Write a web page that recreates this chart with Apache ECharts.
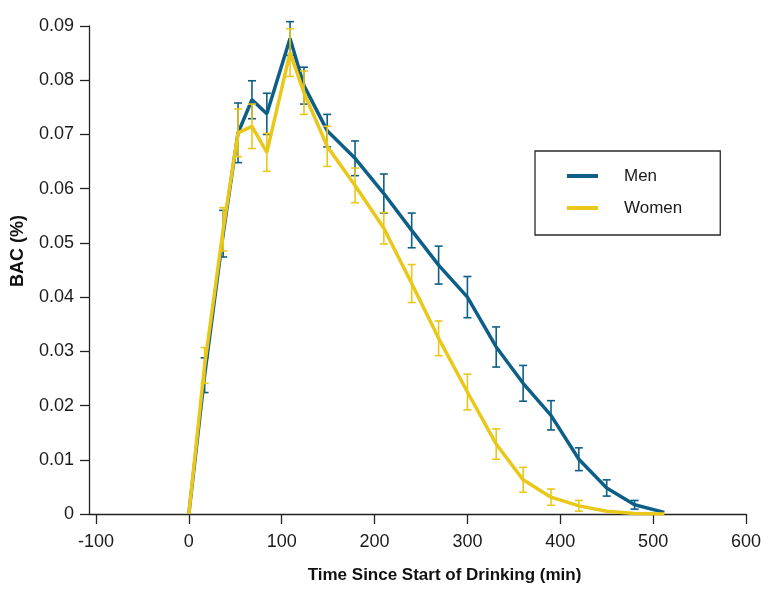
<!DOCTYPE html>
<html>
<head>
<meta charset="utf-8">
<script src="https://cdn.jsdelivr.net/npm/echarts@6/dist/echarts.min.js"></script>
<style>
html,body{margin:0;padding:0;background:#fff;}
#chart{width:775px;height:595px;}
</style>
</head>
<body>
<div id="chart"></div>
<script>
// ---- data ----
const times    = [0, 17, 37, 53, 68, 84, 109, 124, 149, 179, 210, 240, 269, 300, 331, 360, 390, 420, 450, 480, 512];
const menBAC   = [0, 0.0256, 0.0517, 0.0703, 0.0764, 0.0738, 0.0877, 0.0790, 0.0707, 0.0656, 0.0591, 0.0523, 0.0459, 0.0400, 0.0308, 0.0241, 0.0182, 0.0101, 0.0048, 0.0017, 0.0003];
const menErr   = [null, 0.0032, 0.0043, 0.0055, 0.0035, 0.0038, 0.0031, 0.0034, 0.0030, 0.0032, 0.0036, 0.0032, 0.0035, 0.0038, 0.0037, 0.0033, 0.0027, 0.0021, 0.0015, 0.0008, null];
const womenBAC = [0, 0.0274, 0.0525, 0.0703, 0.0715, 0.0667, 0.0851, 0.0777, 0.0678, 0.0606, 0.0527, 0.0425, 0.0324, 0.0225, 0.0129, 0.0063, 0.0031, 0.0015, 0.0005, 0.0001, 0];
const womenErr = [null, 0.0033, 0.0040, 0.0044, 0.0041, 0.0035, 0.0044, 0.0040, 0.0037, 0.0032, 0.0029, 0.0035, 0.0032, 0.0033, 0.0028, 0.0023, 0.0015, 0.0010, null, null, null];
const xTicks   = [-100, 0, 100, 200, 300, 400, 500, 600];
const seriesNames = ['Men', 'Women'];

const BLUE = '#0e5f87';
const YELLOW = '#e9c81a';
const FONT = '"Liberation Sans", Arial, Helvetica, sans-serif';

function pairs(ys) { return times.map((t, i) => [t, ys[i]]); }
function errData(ys, es) {
  const out = [];
  times.forEach((t, i) => { if (es[i] != null) out.push([t, ys[i] - es[i], ys[i] + es[i]]); });
  return out;
}
function renderErr(params, api) {
  const x = api.value(0), lo = api.value(1), hi = api.value(2);
  const p1 = api.coord([x, lo]);
  const p2 = api.coord([x, hi]);
  const w = 4;
  const style = { stroke: api.visual('color'), lineWidth: 1.6 };
  return {
    type: 'group',
    children: [
      { type: 'line', shape: { x1: p1[0], y1: p1[1], x2: p2[0], y2: p2[1] }, style },
      { type: 'line', shape: { x1: p1[0] - w, y1: p1[1], x2: p1[0] + w, y2: p1[1] }, style },
      { type: 'line', shape: { x1: p2[0] - w, y1: p2[1], x2: p2[0] + w, y2: p2[1] }, style }
    ]
  };
}

const chart = echarts.init(document.getElementById('chart'), null, { renderer: 'canvas' });
chart.setOption({
  backgroundColor: '#ffffff',
  animation: false,
  textStyle: { fontFamily: FONT },
  grid: { left: 89, right: 29, top: 26, bottom: 81, containLabel: false },
  legend: {
    data: seriesNames,
    orient: 'vertical',
    left: 535,
    top: 151,
    icon: 'rect',
    itemWidth: 31,
    itemHeight: 4,
    itemGap: 12,
    padding: [15, 38, 17, 32],
    borderColor: '#2a2a2a',
    borderWidth: 1.3,
    selectedMode: false,
    textStyle: { fontFamily: FONT, fontSize: 17, color: '#1a1a1a', lineHeight: 20, padding: [0, 0, 0, 21] }
  },
  xAxis: {
    type: 'value',
    min: -107.5,
    max: 600,
    name: 'Time Since Start of Drinking (min)',
    nameLocation: 'middle',
    nameGap: 53,
    nameTextStyle: { fontFamily: FONT, fontSize: 17, fontWeight: 'bold', color: '#111', padding: [0, 0, 0, 54] },
    axisLine: { show: true, onZero: false, lineStyle: { color: '#222', width: 1.3 } },
    axisTick: { show: true, length: 10, customValues: xTicks, lineStyle: { color: '#222', width: 1.3 } },
    axisLabel: { customValues: xTicks, fontFamily: FONT, fontSize: 18, color: '#1a1a1a', margin: 19 },
    splitLine: { show: false }
  },
  yAxis: {
    type: 'value',
    min: 0,
    max: 0.09,
    interval: 0.01,
    name: 'BAC (%)',
    nameLocation: 'middle',
    nameGap: 62,
    nameRotate: 90,
    nameTextStyle: { fontFamily: FONT, fontSize: 18, fontWeight: 'bold', color: '#111', padding: [0, 0, 0, 38] },
    axisLine: { show: true, onZero: false, lineStyle: { color: '#222', width: 1.3 } },
    axisTick: { show: true, length: 9, lineStyle: { color: '#222', width: 1.3 } },
    axisLabel: {
      fontFamily: FONT, fontSize: 18, color: '#1a1a1a', margin: 15,
      verticalAlign: 'middle', padding: [0, 0, 8, 0],
      formatter: v => (v === 0 ? '0' : v.toFixed(2))
    },
    splitLine: { show: false }
  },
  series: [
    {
      name: 'Men err', type: 'custom', renderItem: renderErr, clip: false,
      itemStyle: { color: BLUE }, encode: { x: 0, y: [1, 2] }, data: errData(menBAC, menErr), z: 2
    },
    {
      name: seriesNames[0], type: 'line', data: pairs(menBAC), showSymbol: false, symbol: 'none',
      color: BLUE, lineStyle: { color: BLUE, width: 3.5 }, z: 3
    },
    {
      name: 'Women err', type: 'custom', renderItem: renderErr, clip: false,
      itemStyle: { color: YELLOW }, encode: { x: 0, y: [1, 2] }, data: errData(womenBAC, womenErr), z: 4
    },
    {
      name: seriesNames[1], type: 'line', data: pairs(womenBAC), showSymbol: false, symbol: 'none',
      color: YELLOW, lineStyle: { color: YELLOW, width: 3.5 }, z: 5
    }
  ]
});
</script>
</body>
</html>
